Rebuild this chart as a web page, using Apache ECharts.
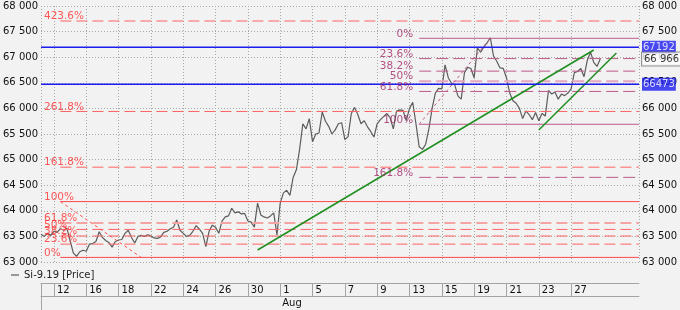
<!DOCTYPE html>
<html><head><meta charset="utf-8">
<script src="https://cdn.jsdelivr.net/npm/echarts@6/dist/echarts.min.js"></script>
<style>html,body{margin:0;padding:0;background:#f2f2f2}#c{width:680px;height:310px}</style>
</head><body><div id="c"></div>
<script>
// ---- data ----
const seriesName = 'Si-9.19 [Price]';
const tradingDays = ["11","12","15","16","17","18","19","22","23","24","25","26","29","30","31","1","2","5","6","7","8","9","12","13","14","15","16","19","20","21","22","23","26","27","28","29","30","2"];
const monthLabels = [["Aug", 15]];           // month name, index of its first trading day
const slotsPerDay = 5;                        // price samples per trading day
const firstDaySlot = 4;                       // slot where trading day index 1 begins
const totalSlots = 186;
const price = [
63540,63500,63560,63520,63600,63580,63650,63620,63660,63420,
63180,63110,63200,63230,63210,63350,63360,63400,63590,63480,
63420,63380,63290,63400,63430,63440,63560,63620,63480,63370,
63500,63520,63500,63530,63510,63470,63460,63490,63580,63600,
63650,63680,63820,63620,63560,63500,63520,63600,63710,63640,
63560,63300,63600,63720,63680,63560,63800,63880,63900,64050,
63960,63980,63940,63950,63800,63780,63680,64150,63920,63880,
63860,63900,63960,63530,64150,64350,64400,64300,64650,64800,
65200,65700,65600,65800,65350,65500,65520,65930,65750,65650,
65500,65580,65700,65720,65390,65450,65900,66020,65880,65700,
65760,65640,65550,65440,65700,65780,65840,65900,65820,65600,
65950,65970,65960,65760,66000,66120,65700,65250,65200,65300,
65600,66000,66300,66390,66380,66850,66600,66490,66460,66240,
66180,66700,66800,66780,66600,67180,67100,67200,67280,67380,
67020,66920,66790,66780,66600,66300,66150,66100,66000,65800,
65950,65880,65780,65920,65760,65900,65850,66350,66280,66320,
66180,66280,66250,66300,66380,66700,66720,66780,66620,66940,
67100,66900,66820,66966];
const yMin = 63000, yMax = 68000, yStep = 500;
const blueLevels = [67192, 66473];
const lastPrice = 66966;
// Fibonacci tool A (red): anchors [slot, price] high -> low
const fibAAnchor = [[6, 64180], [31, 63090]];
const fibALabels = ["423.6%","261.8%","161.8%","100%","61.8%","50%","38.2%","23.6%","0%"];
const fibALevels = [67707, 65940, 64852, 64180, 63764, 63636, 63508, 63349, 63090];
// Fibonacci tool B (purple): anchors low -> high
const fibBAnchor = [[117, 65690], [139, 67369]];
const fibBLabels = ["0%","23.6%","38.2%","50%","61.8%","100%","161.8%"];
const fibBLevels = [67369, 66973, 66728, 66530, 66331, 65690, 64653];
// green trend lines [slot, price]
const trendLines = [[[67, 63234], [171, 67141]], [[154, 65578], [178, 67082]]];

// ---- helpers ----
const FONT = 'DejaVu Sans';
const fmtK = v => String(v).replace(/\B(?=(\d{3})+(?!\d))/g, ' ');
const dayOf = i => Math.floor((i - firstDaySlot) / slotsPerDay) + 1;
const cats = [];
for (let j = 0; j < totalSlots; j++) cats.push('d' + dayOf(j) + 's' + j);
const lastSlot = totalSlots - 1;
const isLabelSlot = i => i >= firstDaySlot && i < price.length && (i - firstDaySlot) % (2 * slotsPerDay) === 0;
const monthSlots = monthLabels.map(m => firstDaySlot + (m[1] - 1) * slotsPerDay);

const RED_T = '#ff2e2e', RED_L = '#ff6262', RED_S = '#ff4a4a', PUR_T = '#a02868', PUR_L = '#bd5a8a';
const overlays = [];
const seg = (a, b, style, z) => overlays.push({type: 'line', data: [a, b], symbol: 'none', silent: true, z: z || 3,
  lineStyle: style, itemStyle: {color: style.color}, emphasis: {disabled: true}, tooltip: {show: false}});
const labelSeries = (points, z) => overlays.push({type: 'scatter', data: points, symbolSize: 0, silent: true, z: z || 5,
  itemStyle: {color: 'transparent'}, emphasis: {disabled: true}, tooltip: {show: false}});

// fib A
const fibAText = [];
fibALevels.forEach((lv, k) => {
  const lbl = fibALabels[k];
  const solid = (lbl === '100%' || lbl === '0%');
  const light = lbl === '61.8%';
  seg([fibAAnchor[0][0], lv], [lastSlot, lv], {color: light ? '#f6a3a3' : (solid ? RED_S : RED_L), width: light ? 2 : 1, type: solid ? 'solid' : [11, 5]});
  fibAText.push({value: [0, lv], label: {show: true, formatter: lbl, position: [3, 1], align: 'left', verticalAlign: 'bottom',
    color: RED_T, fontFamily: FONT, fontSize: 10.5}});
});
seg(fibAAnchor[0], fibAAnchor[1], {color: '#ff5050', width: 1, type: [3, 3]});
labelSeries(fibAText);
// fib B
const fibBText = [];
fibBLevels.forEach((lv, k) => {
  const lbl = fibBLabels[k];
  const solid = (lbl === '100%' || lbl === '0%');
  const light = lbl === '50%';
  seg([fibBAnchor[0][0], lv], [lastSlot, lv], {color: light ? '#e3a6bf' : PUR_L, width: light ? 2 : 1, type: solid ? 'solid' : [12, 5]});
  fibBText.push({value: [fibBAnchor[0][0], lv], label: {show: true, formatter: lbl, position: [-6, 1], align: 'right', verticalAlign: 'bottom',
    color: PUR_T, fontFamily: FONT, fontSize: 10.5}});
});
seg(fibBAnchor[0], fibBAnchor[1], {color: PUR_L, width: 1, type: [3, 3]});
labelSeries(fibBText);
// trend lines
trendLines.forEach(t => seg(t[0], t[1], {color: '#1f8f1f', width: 1.5, type: 'solid'}, 4));
// blue levels
const rightText = [];
blueLevels.forEach(v => {
  seg([0, v], [lastSlot, v], {color: '#1c1cf0', width: 1.5, type: 'solid'}, 4);
  rightText.push({value: [lastSlot, v], label: {show: true, formatter: String(v), position: [3, 0], align: 'left', verticalAlign: 'middle',
    backgroundColor: '#1c1cf0', color: '#ffffff', padding: [2, 1, 1, 1], fontFamily: FONT, fontSize: 10}});
});
rightText.push({value: [lastSlot, lastPrice], label: {show: true, formatter: fmtK(lastPrice), position: [3, 0], align: 'left', verticalAlign: 'middle',
  backgroundColor: '#ffffff', borderColor: '#7a7a7a', borderWidth: 1, color: '#000', padding: [2, 2, 1, 2], fontFamily: FONT, fontSize: 10}});
labelSeries(rightText, 6);

const chart = echarts.init(document.getElementById('c'), null, {renderer: 'canvas'});
chart.setOption({
  backgroundColor: '#f2f2f2',
  animation: false,
  textStyle: {fontFamily: FONT},
  grid: {left: 38, right: 40, top: 6, bottom: 48, containLabel: false},
  legend: {data: [{name: seriesName, icon: 'rect'}], left: 11, top: 270, padding: 0, itemWidth: 8, itemHeight: 1.2, itemGap: 5,
    textStyle: {fontSize: 10, color: '#222', fontFamily: FONT}},
  xAxis: [{
    type: 'category', data: cats, boundaryGap: false, position: 'bottom', offset: 21,
    axisLine: {show: true, lineStyle: {color: '#a4a4a4', width: 1}},
    axisTick: {show: true, interval: (i) => i === 0 || isLabelSlot(i), length: 13, lineStyle: {color: '#a4a4a4'}},
    axisLabel: {interval: (i) => isLabelSlot(i), formatter: (v, i) => tradingDays[dayOf(i)], align: 'left', padding: [0, 0, 0, 3], margin: 2,
      color: '#111', fontSize: 10, fontFamily: FONT},
    splitLine: {show: true, interval: (i) => i === 0 || i === lastSlot || isLabelSlot(i), lineStyle: {color: '#a8a8a8', type: [1, 2]}}
  }, {
    type: 'category', data: cats, boundaryGap: false, position: 'bottom', offset: 34,
    axisLine: {show: true, lineStyle: {color: '#a4a4a4', width: 1}},
    axisTick: {show: true, interval: (i) => i === 0, length: 14, lineStyle: {color: '#a4a4a4'}},
    axisLabel: {interval: (i) => monthSlots.includes(i), formatter: (v, i) => { const k = monthSlots.indexOf(i); return k >= 0 ? monthLabels[k][0] : ''; },
      align: 'left', padding: [0, 0, 0, 2], margin: 2, color: '#111', fontSize: 10, fontFamily: FONT},
    splitLine: {show: false}
  }],
  yAxis: [{
    type: 'value', min: yMin, max: yMax, interval: yStep, position: 'left',
    axisLine: {show: false}, axisTick: {show: false},
    axisLabel: {formatter: fmtK, margin: 3, color: '#111', fontSize: 10, fontFamily: FONT},
    splitLine: {show: true, lineStyle: {color: '#a8a8a8', type: [1, 2]}}
  }, {
    type: 'value', min: yMin, max: yMax, interval: yStep, position: 'right',
    axisLine: {show: false}, axisTick: {show: false},
    axisLabel: {formatter: fmtK, margin: 3, color: '#111', fontSize: 10, fontFamily: FONT},
    splitLine: {show: false}
  }],
  series: [{
    name: seriesName, type: 'line', data: price, z: 2,
    symbol: 'none', lineStyle: {color: '#5c5c5c', width: 1.2}, itemStyle: {color: '#5c5c5c'}
  }].concat(overlays)
});
</script></body></html>
